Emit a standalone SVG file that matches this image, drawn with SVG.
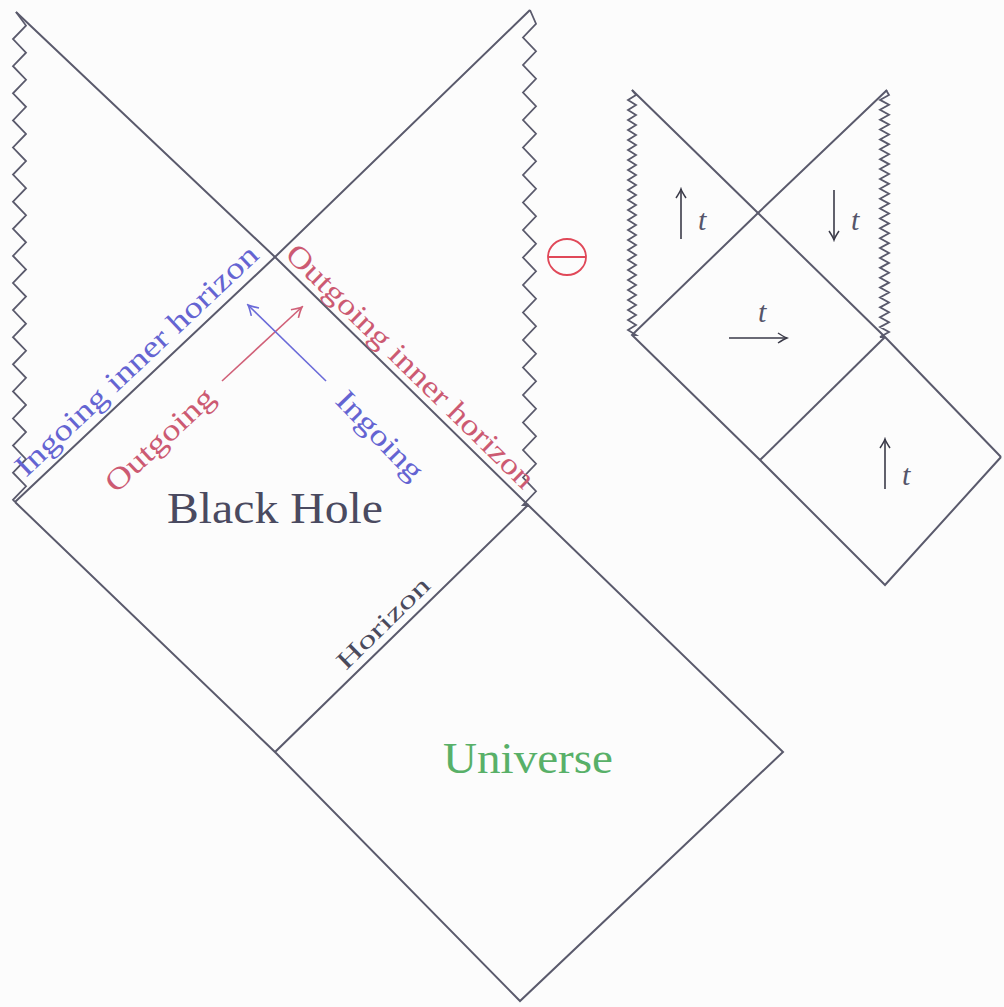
<svg xmlns="http://www.w3.org/2000/svg" width="1004" height="1007" viewBox="0 0 1004 1007">
<defs>
<style>
.ln{fill:none;stroke:#5a5a6c;stroke-width:2;stroke-linejoin:miter}
.zz{fill:none;stroke:#5a5a6c;stroke-width:1.8;stroke-linejoin:miter}
.lbl{font-family:"Liberation Serif","DejaVu Serif",serif}
.t{font-family:"Liberation Serif",serif;font-style:italic;font-size:30px;fill:#55556a}
.ar{fill:none;stroke:#3a3a48;stroke-width:1.6}
</style>
<marker id="ahk" viewBox="-11 -7 13 14" refX="0" refY="0" markerWidth="13" markerHeight="14" markerUnits="userSpaceOnUse" orient="auto"><path d="M-9,-5 Q-3,-1 0,0 Q-3,1 -9,5" fill="none" stroke="#3a3a48" stroke-width="1.5"/></marker>
<marker id="ahb" viewBox="-11 -7 13 14" refX="0" refY="0" markerWidth="13" markerHeight="14" markerUnits="userSpaceOnUse" orient="auto"><path d="M-10,-5.5 Q-3,-1 0,0 Q-3,1 -10,5.5" fill="none" stroke="#6a6ad8" stroke-width="1.6"/></marker>
<marker id="ahr" viewBox="-11 -7 13 14" refX="0" refY="0" markerWidth="13" markerHeight="14" markerUnits="userSpaceOnUse" orient="auto"><path d="M-10,-5.5 Q-3,-1 0,0 Q-3,1 -10,5.5" fill="none" stroke="#d06078" stroke-width="1.6"/></marker>
</defs>
<rect width="1004" height="1007" fill="#fcfcfc"/>

<g id="connectors">
<!-- left diagram -->
<polyline class="ln" points="16,12 275,257 528,505"/>
<polyline class="ln" points="530,10 275,257 15,502"/>
<polyline class="ln" points="15,502 275,752 528,505 783,752 520,1001 275,752"/>
<path class="zz" d="M16,12 l10,13.55 l-13,13.55 l13,13.55 l-13,13.55 l13,13.55 l-13,13.55 l13,13.55 l-13,13.55 l13,13.55 l-13,13.55 l13,13.55 l-13,13.55 l13,13.55 l-13,13.55 l13,13.55 l-13,13.55 l13,13.55 l-13,13.55 l13,13.55 l-13,13.55 l13,13.55 l-13,13.55 l13,13.55 l-13,13.55 l13,13.55 l-13,13.55 l13,13.55 l-13,13.55 l13,13.55 l-13,13.55 l13,13.55 l-13,13.55 l13,13.55 l-13,13.55 l13,13.55 l-13,13.55 L15,502"/>
<path class="zz" d="M530,10 l6,13.75 l-13,13.75 l13,13.75 l-13,13.75 l13,13.75 l-13,13.75 l13,13.75 l-13,13.75 l13,13.75 l-13,13.75 l13,13.75 l-13,13.75 l13,13.75 l-13,13.75 l13,13.75 l-13,13.75 l13,13.75 l-13,13.75 l13,13.75 l-13,13.75 l13,13.75 l-13,13.75 l13,13.75 l-13,13.75 l13,13.75 l-13,13.75 l13,13.75 l-13,13.75 l13,13.75 l-13,13.75 l13,13.75 l-13,13.75 l13,13.75 l-13,13.75 l13,13.75 l-13,13.75 L528,505"/>
<!-- right diagram -->
<polyline class="ln" points="632,90 758,213 885,337 1001,457"/>
<polyline class="ln" points="887,90 758,213 632,335 760,460 885,585 1001,457"/>
<polyline class="ln" points="760,460 885,337"/>
<path class="zz" d="M632,90 l4,5 l-8,5 l8,5 l-8,5 l8,5 l-8,5 l8,5 l-8,5 l8,5 l-8,5 l8,5 l-8,5 l8,5 l-8,5 l8,5 l-8,5 l8,5 l-8,5 l8,5 l-8,5 l8,5 l-8,5 l8,5 l-8,5 l8,5 l-8,5 l8,5 l-8,5 l8,5 l-8,5 l8,5 l-8,5 l8,5 l-8,5 l8,5 l-8,5 l8,5 l-8,5 l8,5 l-8,5 l8,5 l-8,5 l8,5 l-8,5 l8,5 l-8,5 l8,5 l-8,5 l8,5 L632,335"/>
<path class="zz" d="M886,90 l3,4.94 l-9,4.94 l9,4.94 l-9,4.94 l9,4.94 l-9,4.94 l9,4.94 l-9,4.94 l9,4.94 l-9,4.94 l9,4.94 l-9,4.94 l9,4.94 l-9,4.94 l9,4.94 l-9,4.94 l9,4.94 l-9,4.94 l9,4.94 l-9,4.94 l9,4.94 l-9,4.94 l9,4.94 l-9,4.94 l9,4.94 l-9,4.94 l9,4.94 l-9,4.94 l9,4.94 l-9,4.94 l9,4.94 l-9,4.94 l9,4.94 l-9,4.94 l9,4.94 l-9,4.94 l9,4.94 l-9,4.94 l9,4.94 l-9,4.94 l9,4.94 l-9,4.94 l9,4.94 l-9,4.94 l9,4.94 l-9,4.94 l9,4.94 l-9,4.94 l9,4.94 l-9,4.94 L884,337"/>
<!-- light ray arrows -->
<line x1="222" y1="381" x2="302" y2="307" stroke="#d06078" stroke-width="1.6" marker-end="url(#ahr)"/>
<line x1="326" y1="381" x2="248" y2="305" stroke="#6a6ad8" stroke-width="1.6" marker-end="url(#ahb)"/>
<!-- time arrows -->
<line class="ar" x1="681" y1="239" x2="681" y2="189" marker-end="url(#ahk)"/>
<line class="ar" x1="834" y1="190" x2="834" y2="240" marker-end="url(#ahk)"/>
<line class="ar" x1="729" y1="338" x2="787" y2="338" marker-end="url(#ahk)"/>
<line class="ar" x1="885" y1="489" x2="885" y2="439" marker-end="url(#ahk)"/>
</g>

<g id="labels">
<text class="lbl" transform="translate(26,478) rotate(-43.3)" font-size="30" fill="#6464d2" textLength="322" lengthAdjust="spacingAndGlyphs">Ingoing inner horizon</text>
<text class="lbl" transform="translate(284,256) rotate(44.4)" font-size="30" fill="#cc5a72" textLength="335" lengthAdjust="spacingAndGlyphs">Outgoing inner horizon</text>
<text class="lbl" transform="translate(116,494) rotate(-43)" font-size="30" fill="#cc5a72" textLength="138" lengthAdjust="spacingAndGlyphs">Outgoing</text>
<text class="lbl" transform="translate(334,402) rotate(46)" font-size="30" fill="#6464d2" textLength="112" lengthAdjust="spacingAndGlyphs">Ingoing</text>
<text class="lbl" transform="translate(346,671) rotate(-44.4)" font-size="25" fill="#4a4a5c" textLength="120" lengthAdjust="spacingAndGlyphs">Horizon</text>
</g>

<g id="black-hole"><text class="lbl" x="167" y="523" font-size="44" fill="#4a4a60" textLength="216" lengthAdjust="spacingAndGlyphs">Black Hole</text></g>
<g id="universe"><text class="lbl" x="443" y="773" font-size="44" fill="#58b068" textLength="170" lengthAdjust="spacingAndGlyphs">Universe</text></g>
<g id="theta" fill="none" stroke="#e04858" stroke-width="1.8">
<ellipse cx="567" cy="257" rx="19" ry="18"/>
<line x1="548" y1="257" x2="586" y2="257"/>
</g>

<g id="time-labels">
<text class="t" x="698" y="230">t</text>
<text class="t" x="851" y="230">t</text>
<text class="t" x="758" y="322">t</text>
<text class="t" x="902" y="485">t</text>
</g>
</svg>
